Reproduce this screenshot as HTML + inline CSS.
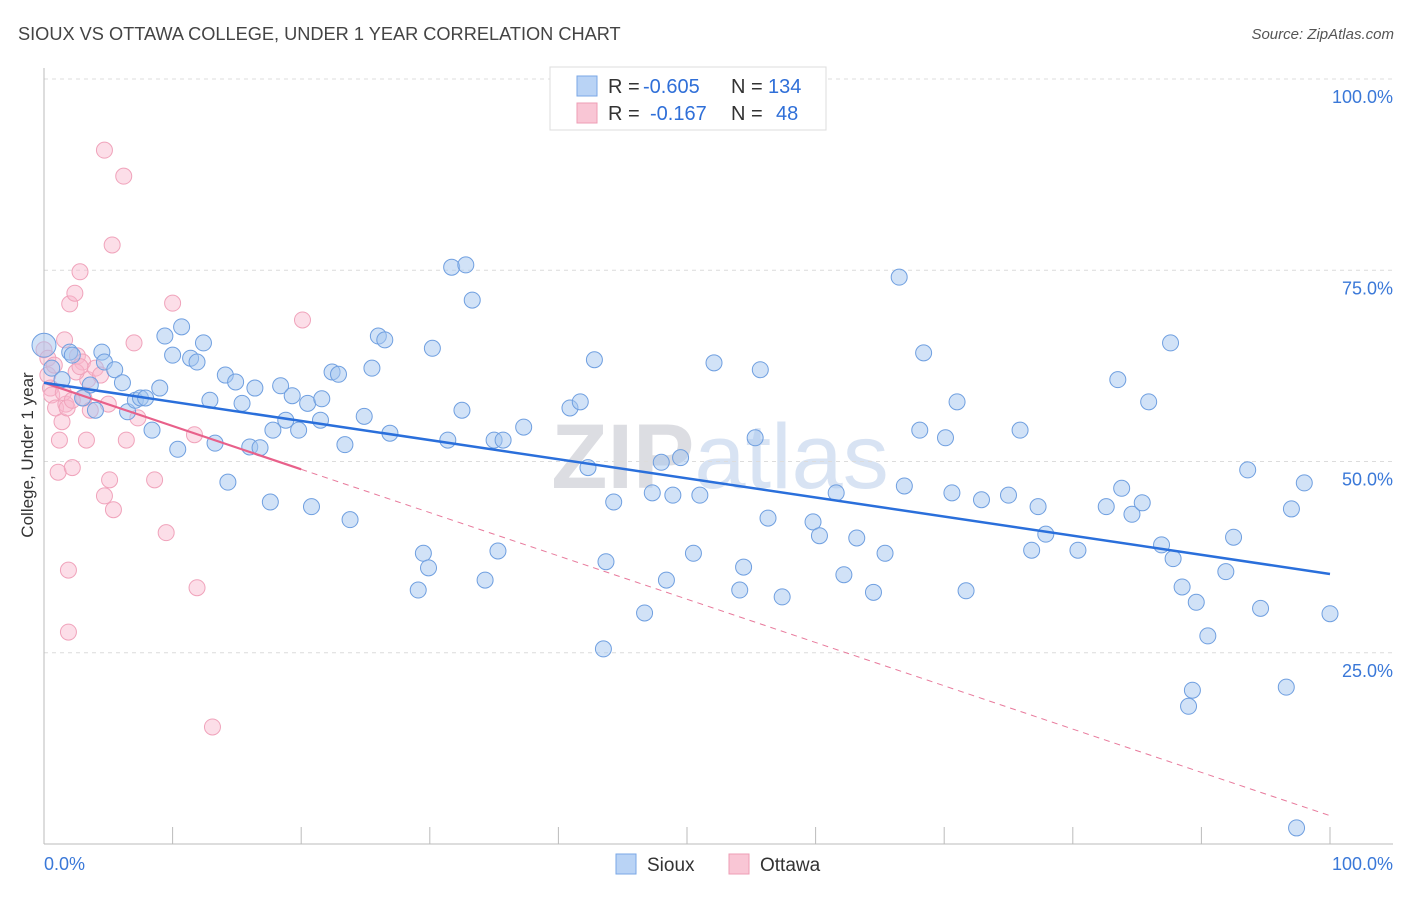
<!DOCTYPE html>
<html><head><meta charset="utf-8"><style>
body{margin:0;background:#fff;font-family:"Liberation Sans",sans-serif;}
svg text{font-family:"Liberation Sans",sans-serif;}
</style></head><body>
<svg id="chart" width="1406" height="892" xmlns="http://www.w3.org/2000/svg">
<text x="18" y="40" font-size="18.2" fill="#444">SIOUX VS OTTAWA COLLEGE, UNDER 1 YEAR CORRELATION CHART</text>
<text x="1394" y="39" font-size="15" fill="#555" text-anchor="end" font-style="italic">Source: ZipAtlas.com</text>
<text x="720" y="488" font-size="92" fill="#e6e8ec" text-anchor="middle" font-family="Liberation Serif"><tspan font-weight="bold" fill="#dcdde2">ZIP</tspan><tspan fill="#d8e3f3">atlas</tspan></text>
<g id="grid"></g>
<g id="axes"></g>
<g id="marks"></g>
<text transform="translate(33,455) rotate(-90)" font-size="17" fill="#333" text-anchor="middle">College, Under 1 year</text>
<g>
<rect x="550" y="67" width="276" height="63" fill="#fff" stroke="#ddd"/>
<rect x="577" y="76" width="20" height="20" fill="#b9d3f5" stroke="#7aa7e6"/>
<rect x="577" y="103" width="20" height="20" fill="#f9c6d5" stroke="#ee9db5"/>
<g font-size="20">
<text x="608" y="93" fill="#333">R =</text>
<text x="643" y="93" fill="#2f6fd8">-0.605</text>
<text x="731" y="93" fill="#333">N =</text>
<text x="768" y="93" fill="#2f6fd8">134</text>
</g>
<g font-size="20">
<text x="608" y="120" fill="#333">R =</text>
<text x="650" y="120" fill="#2f6fd8">-0.167</text>
<text x="731" y="120" fill="#333">N =</text>
<text x="776" y="120" fill="#2f6fd8">48</text>
</g>
</g>
<g>
<rect x="616" y="854" width="20" height="20" fill="#b9d3f5" stroke="#7aa7e6"/>
<text x="647" y="871" font-size="19" fill="#333">Sioux</text>
<rect x="729" y="854" width="20" height="20" fill="#f9c6d5" stroke="#ee9db5"/>
<text x="760" y="871" font-size="19" fill="#333">Ottawa</text>
</g>
</svg>
<script>
const siouxX=[0,0.6,1.4,2.0,2.2,3.0,3.6,4.0,4.5,4.7,5.5,6.1,6.5,7.1,7.5,7.9,8.4,9.0,9.4,10.0,10.4,10.7,11.4,11.9,12.4,12.9,13.3,14.1,14.3,14.9,15.4,16.0,16.4,16.8,17.6,17.8,18.4,18.8,19.3,19.8,20.5,20.8,21.5,21.6,22.4,22.9,23.4,23.8,24.9,25.5,26.0,26.5,26.9,29.5,29.1,29.9,30.2,31.4,31.7,32.5,32.8,33.3,34.3,35.0,35.3,35.7,37.3,40.9,41.7,42.3,42.8,43.5,43.7,44.3,46.7,47.3,48.0,48.4,48.9,49.5,50.5,51.0,52.1,54.1,54.4,55.3,55.7,56.3,57.4,59.8,60.3,61.6,62.2,63.2,64.5,65.4,66.5,66.9,68.1,68.4,70.1,70.6,71.0,71.7,72.9,75.0,75.9,76.8,77.3,77.9,80.4,82.6,83.5,83.8,84.6,85.4,85.9,86.9,87.6,87.8,88.5,89.0,89.3,89.6,90.5,91.9,92.5,93.6,94.6,96.6,97.0,98.0,100,97.4];
const siouxY=[65.2,62.2,60.7,64.3,63.9,58.3,60.0,56.7,64.3,63.0,62.0,60.3,56.5,58.0,58.3,58.3,54.1,59.6,66.4,63.9,51.6,67.6,63.5,63.0,65.5,58.0,52.4,61.3,47.3,60.4,57.6,51.9,59.6,51.8,44.7,54.1,59.9,55.4,58.6,54.1,57.6,44.1,55.4,58.2,61.7,61.4,52.2,42.4,55.9,62.2,66.4,65.9,53.7,38.0,33.2,36.1,64.8,52.8,75.4,56.7,75.7,71.1,34.5,52.8,38.3,52.8,54.5,57.0,57.8,49.2,63.3,25.5,36.9,44.7,30.2,45.9,49.9,34.5,45.6,50.5,38.0,45.6,62.9,33.2,36.2,53.1,62.0,42.6,32.3,42.1,40.3,45.9,35.2,40.0,32.9,38.0,74.1,46.8,54.1,64.2,53.1,45.9,57.8,33.1,45.0,45.6,54.1,38.4,44.1,40.5,38.4,44.1,60.7,46.5,43.1,44.6,57.8,39.1,65.5,37.3,33.6,18.0,20.1,31.6,27.2,35.6,40.1,48.9,30.8,20.5,43.8,47.2,30.1,2.1];
const ottawaX=[0,0.3,0.5,0.6,0.9,1.1,1.2,1.4,1.6,1.7,1.9,1.9,2.0,2.2,2.4,2.6,2.8,3.0,3.1,3.3,3.4,3.6,4.0,4.4,4.7,4.7,5.0,5.1,5.3,5.4,6.2,6.4,7.0,7.3,8.6,9.5,10.0,11.7,11.9,13.1,20.1,0.3,0.8,1.5,2.5,1.8,2.8,2.2];
const ottawaY=[64.6,63.5,59.6,58.7,57.0,48.6,52.8,55.2,65.9,57.5,35.8,27.7,70.6,49.2,72.0,63.8,74.8,63.0,58.3,52.8,60.7,56.7,62.2,61.3,45.5,90.7,57.5,47.6,78.3,43.7,87.3,52.8,65.5,55.7,47.6,40.7,70.7,53.5,33.5,15.3,68.5,61.3,62.6,59.0,61.7,57.0,62.4,58.0];
const siouxTrend=[60.3,35.3];   // value at x=0 and x=100
const ottawaTrend=[60.3,3.7];
const xTicks=[0,10,20,30,40,50,60,70,80,90,100];
const yTicks=[25,50,75,100];
const yTickLabels=["25.0%","50.0%","75.0%","100.0%"];

const NS="http://www.w3.org/2000/svg";
const X0=44,X1=1330,Y0=844,Y1=79;
const sx=v=>X0+(X1-X0)*v/100;
const sy=v=>Y0-(Y0-Y1)*v/100;
function mk(tag,attrs,parent){const e=document.createElementNS(NS,tag);for(const k in attrs)e.setAttribute(k,attrs[k]);parent.appendChild(e);return e;}
const grid=document.getElementById('grid'),axes=document.getElementById('axes'),marks=document.getElementById('marks');
yTicks.forEach((t,i)=>{
  const l=mk('line',{x1:X0,x2:1393,y1:sy(t),y2:sy(t),stroke:'#dcdcdc','stroke-dasharray':'4,4'},grid);
  
  
  const tx=mk('text',{x:1393,y:sy(t)+24,'font-size':18,fill:'#3a78d8','text-anchor':'end'},grid);
  tx.textContent=yTickLabels[i];
  
  
});
const ya=mk('line',{x1:X0,x2:X0,y1:68,y2:Y0,stroke:'#bbb'},axes);


const xa=mk('line',{x1:X0,x2:1393,y1:Y0,y2:Y0,stroke:'#bbb'},axes);


xTicks.forEach(t=>{
  const l=mk('line',{x1:sx(t),x2:sx(t),y1:827,y2:Y0,stroke:'#bbb'},axes);
  
  
});
const xl0=mk('text',{x:44,y:870,'font-size':18,fill:'#3a78d8'},axes);xl0.textContent='0.0%';


const xl1=mk('text',{x:1393,y:870,'font-size':18,fill:'#3a78d8','text-anchor':'end'},axes);xl1.textContent='100.0%';



ottawaX.forEach((x,i)=>{
  const c=mk('circle',{cx:sx(x),cy:sy(ottawaY[i]),r:8,fill:'rgba(248,182,204,0.45)',stroke:'#f0a3bb','stroke-width':1},marks);
  
  
});
siouxX.forEach((x,i)=>{
  const c=mk('circle',{cx:sx(x),cy:sy(siouxY[i]),r:i===0?12:8,fill:'rgba(164,198,240,0.5)',stroke:'#6f9fe0','stroke-width':1},marks);
  
  
});
const ot=v=>ottawaTrend[0]+(ottawaTrend[1]-ottawaTrend[0])*v/100;
const od=mk('line',{x1:sx(20),y1:sy(ot(20)),x2:sx(100),y2:sy(ot(100)),stroke:'#e87a9c','stroke-width':1,'stroke-dasharray':'6,5'},marks);


const os=mk('line',{x1:sx(0),y1:sy(ot(0)),x2:sx(20),y2:sy(ot(20)),stroke:'#e8608a','stroke-width':2.2},marks);


const st=mk('line',{x1:sx(0),y1:sy(siouxTrend[0]),x2:sx(100),y2:sy(siouxTrend[1]),stroke:'#2a6fdb','stroke-width':2.5},marks);


</script>
</body></html>
